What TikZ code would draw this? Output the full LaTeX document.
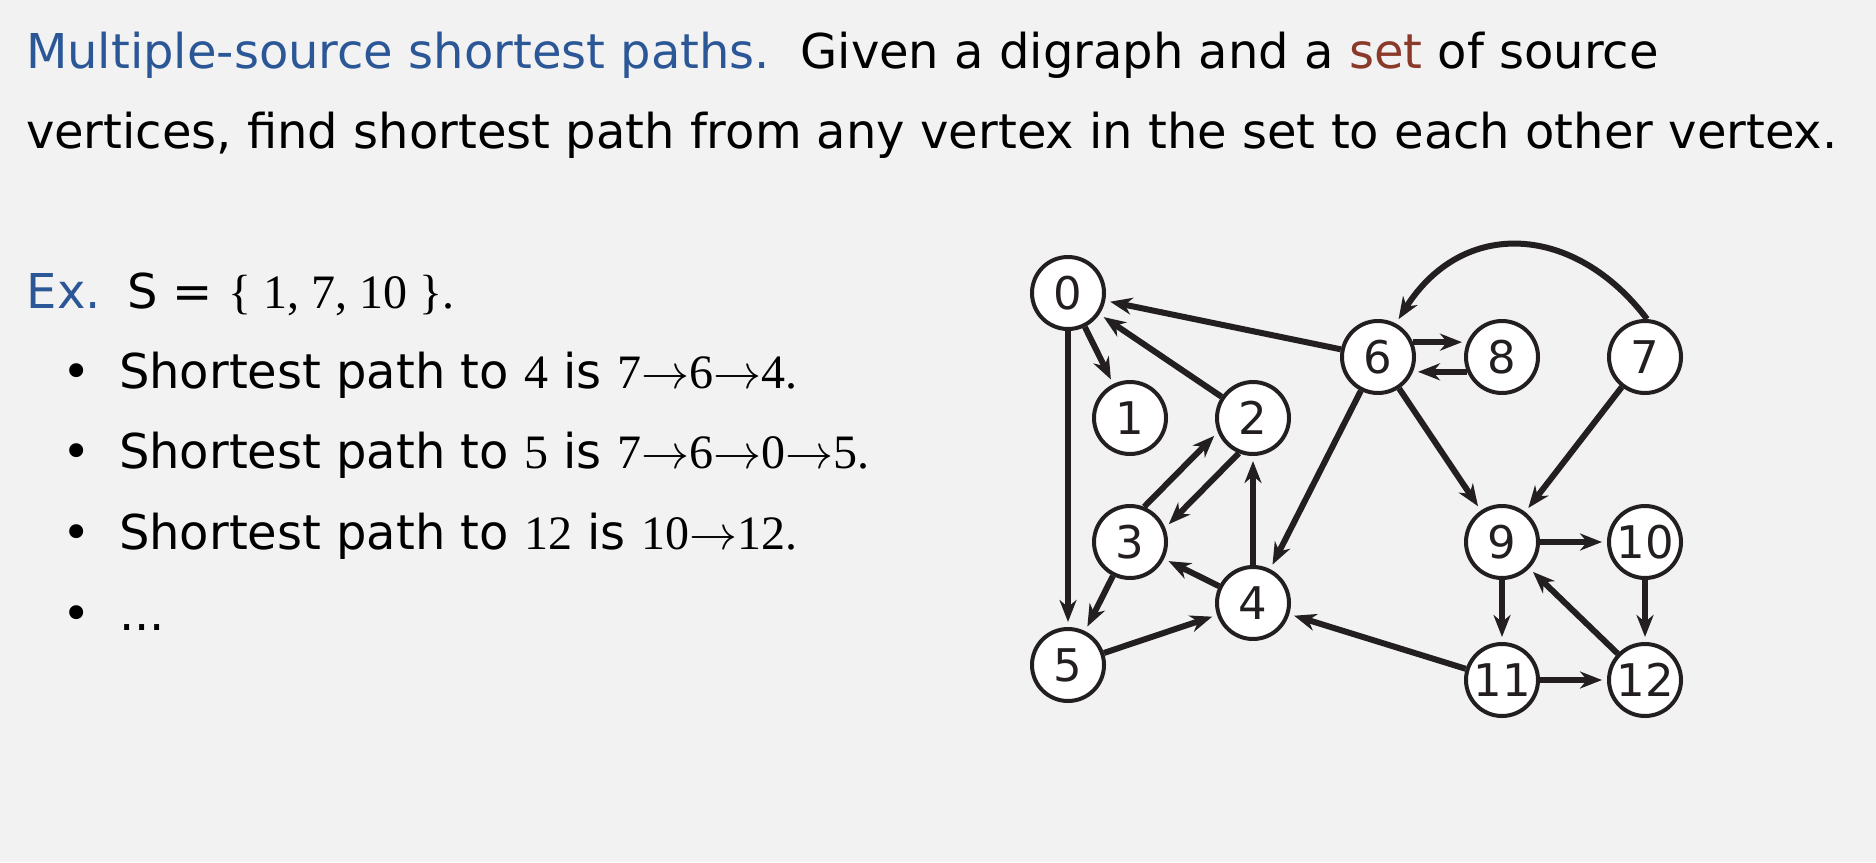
\documentclass[tikz,border=0pt]{standalone}
\usepackage{fontspec}
\setmainfont{DejaVu Sans}
\newfontfamily\tms{Liberation Serif}
\usetikzlibrary{arrows.meta}
\definecolor{bg}{HTML}{F2F2F2}
\definecolor{hblue}{HTML}{2B5797}
\definecolor{hred}{HTML}{8B3A2A}
\definecolor{ink}{HTML}{231F20}
\newcommand{\arr}{\scalebox{1.929}{\fontsize{24.88}{30}\selectfont$\mathord{\rightarrow}$}}
\begin{document}
\begin{tikzpicture}[x=1pt,y=-1pt,
  vtx/.style={circle, draw=ink, fill=white, line width=4pt, minimum size=72pt, inner sep=0pt, font=\fontsize{45}{45}\selectfont, text=ink},
  edge/.style={draw=ink, line width=6pt, -{Stealth[length=22pt,width=17pt,inset=7pt]}, shorten >=5pt},
  txt/.style={anchor=base west, inner sep=0pt, outer sep=0pt, font=\fontsize{48}{58}\selectfont},
  dot/.style={anchor=base, inner sep=0pt, outer sep=0pt, font=\fontsize{48}{58}\selectfont},
]
\useasboundingbox (0,0) rectangle (1876,862);
\fill[bg] (0,0) rectangle (1876,862);

% text
\node[txt] (t1) at (26,68) {{\color{hblue}Multiple-source shortest paths.}\ \ Given a digraph and a {\color{hred}set} of source};
\node[txt] (t2) at (26,148) {vertices, find shortest path from any vertex in the set to each other vertex.};
\node[txt,text=hblue] (ex) at (27,308) {Ex.};
\node[txt] (exs) at (127,308) {S = {\tms\{ 1, 7, 10 \}.}};
\node[dot] (d1) at (77,388) {•};
\node[dot] (d2) at (77,468) {•};
\node[dot] (d3) at (77,549) {•};
\node[dot] (d4) at (77,630) {•};
\node[txt] (b1) at (119,388) {Shortest path to {\tms 4} is {\tms 7\arr6\arr4.}};
\node[txt] (b2) at (119,468) {Shortest path to {\tms 5} is {\tms 7\arr6\arr0\arr5.}};
\node[txt] (b3) at (119,549) {Shortest path to {\tms 12} is {\tms 10\arr12.}};
\node[txt] (b4) at (119,630) {...};

% vertices
\node[vtx] (n0) at (1068,293) {0};
\node[vtx] (n1) at (1130,418) {1};
\node[vtx] (n2) at (1253,418) {2};
\node[vtx] (n3) at (1130,542) {3};
\node[vtx] (n4) at (1253,603) {4};
\node[vtx] (n5) at (1068,665) {5};
\node[vtx] (n6) at (1378,357) {6};
\node[vtx] (n8) at (1502,357) {8};
\node[vtx] (n7) at (1645,357) {7};
\node[vtx] (n9) at (1502,542) {9};
\node[vtx] (n10) at (1645,542) {10};
\node[vtx] (n11) at (1502,680) {11};
\node[vtx] (n12) at (1645,680) {12};

% edges
\draw[edge] (n6) -- (n0);
\draw[edge] (n0) -- (n1);
\draw[edge] (n0) -- (n5);
\draw[edge] (n2) -- (n0);
\draw[edge] (n3.68) -- (n2.202);
\draw[edge] (n2.248) -- (n3.22);
\draw[edge] (n4) -- (n2);
\draw[edge] (n4) -- (n3);
\draw[edge] (n3) -- (n5);
\draw[edge] (n5) -- (n4);
\draw[edge] (n6) -- (n4);
\draw[edge] (n6.23) -- (n8.157);
\draw[edge] (n8.203) -- (n6.337);
\draw[edge] (n6) -- (n9);
\draw[edge] (n7) -- (n9);
\draw[edge] (n7.87) .. controls (1575,224) and (1463,217) .. (n6.62);
\draw[edge] (n9) -- (n10);
\draw[edge] (n9) -- (n11);
\draw[edge] (n10) -- (n12);
\draw[edge] (n11) -- (n12);
\draw[edge] (n12) -- (n9);
\draw[edge] (n11) -- (n4);
\end{tikzpicture}
\end{document}
